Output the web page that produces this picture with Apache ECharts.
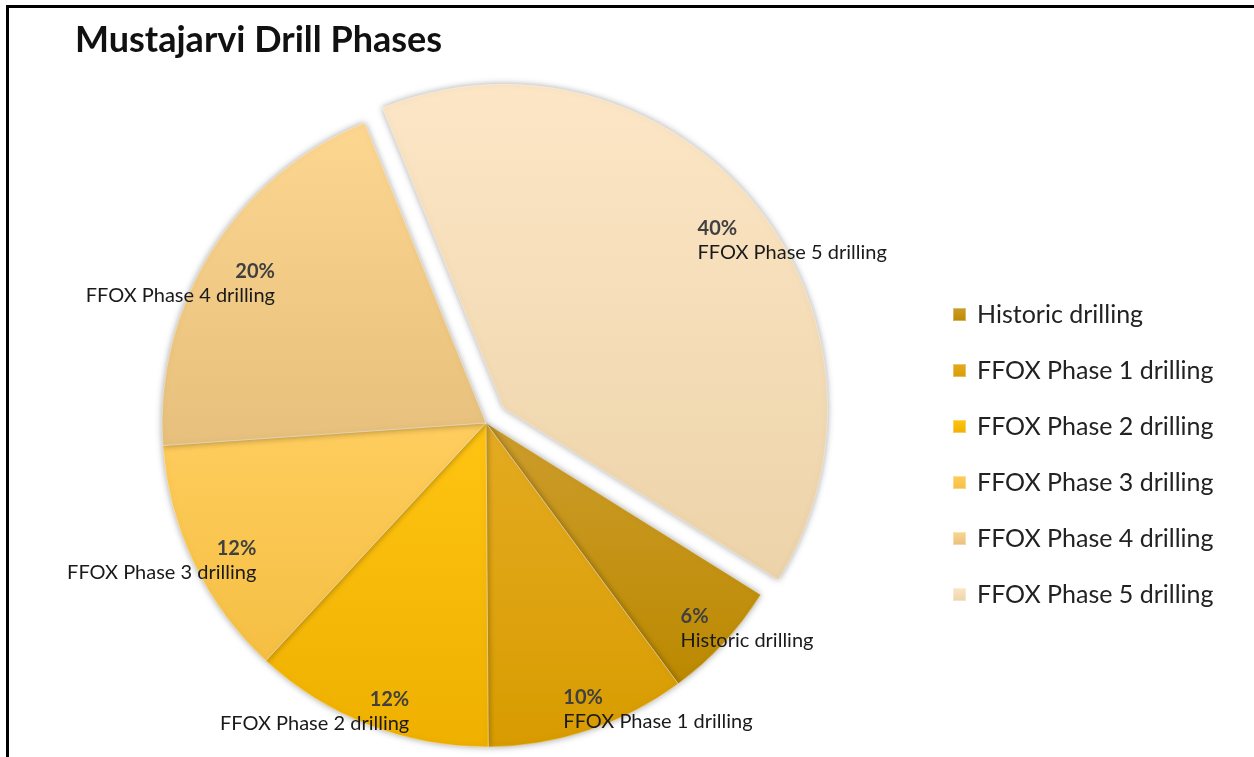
<!DOCTYPE html>
<html>
<head>
<meta charset="utf-8">
<script src="https://cdn.jsdelivr.net/npm/echarts@6/dist/echarts.min.js"></script>
<style>
  html, body { margin: 0; padding: 0; background: #fff; overflow: hidden; }
  #frame {
    position: absolute; left: 6px; top: 5px; width: 1248px; height: 752px;
    border-top: 3px solid #000; border-left: 3px solid #000;
  }
  #chart { position: absolute; left: 0; top: 0; width: 1254px; height: 757px; }
</style>
</head>
<body>
<div id="frame"></div>
<div id="chart"></div>
<script>
  const phases = [
    'Historic drilling',
    'FFOX Phase 1 drilling',
    'FFOX Phase 2 drilling',
    'FFOX Phase 3 drilling',
    'FFOX Phase 4 drilling',
    'FFOX Phase 5 drilling'
  ]
  const shares = [6, 10, 12, 12, 20, 40]
  const exploded = 'FFOX Phase 5 drilling'

  // gold shades, lighter at the top of each slice
  const topColors = ['#cd9d2c', '#e4ab22', '#ffc412', '#ffcd5e', '#fdd690', '#fde6c6']
  const bottomColors = ['#bb8900', '#d89c00', '#efb000', '#f4bf42', '#e6c07c', '#ecd3a9']

  // label pull-in (labelLine length / length2) so labels sit near the rim like in Excel
  const labelPull = [[-22, -32], [-22, -23], [-15, -40], [-5, -63], [-61, -17], [-63, -11]]

  const chart = echarts.init(document.getElementById('chart'))

  const pieData = phases.map((name, i) => ({
    name: name,
    value: shares[i],
    selected: name === exploded,
    itemStyle: {
      color: new echarts.graphic.LinearGradient(0, 0, 0, 1, [
        { offset: 0, color: topColors[i] },
        { offset: 1, color: bottomColors[i] }
      ])
    },
    labelLine: { show: false, length: labelPull[i][0], length2: labelPull[i][1] }
  }))

  const options = {
    backgroundColor: 'transparent',
    animation: false,
    title: {
      text: 'Mustajarvi Drill Phases',
      left: 70,
      top: 17,
      textStyle: {
        fontFamily: 'Lato',
        fontWeight: 'bold',
        fontSize: 36,
        color: '#111'
      }
    },
    legend: {
      orient: 'vertical',
      left: 947,
      top: 297,
      icon: 'rect',
      itemWidth: 13,
      itemHeight: 13,
      itemGap: 31,
      selectedMode: false,
      data: phases,
      textStyle: {
        fontFamily: 'Lato',
        fontSize: 25,
        lineHeight: 25,
        color: '#222',
        padding: [0, 0, 0, 6]
      }
    },
    series: [
      {
        type: 'pie',
        center: [486, 423],
        radius: 324,
        startAngle: -32,
        clockwise: true,
        selectedMode: 'single',
        selectedOffset: 23,
        avoidLabelOverlap: false,
        percentPrecision: 0,
        emphasis: { disabled: true },
        itemStyle: {
          borderColor: 'rgba(255,255,255,0.35)',
          borderWidth: 1,
          shadowBlur: 7,
          shadowColor: 'rgba(0,0,0,0.35)'
        },
        label: {
          show: true,
          position: 'outside',
          formatter: '{p|{d}%}\n{n|{b}}',
          distanceToLabelLine: 5,
          rich: {
            p: { fontFamily: 'Lato', fontWeight: 'bold', fontSize: 20, lineHeight: 24, color: '#404040' },
            n: { fontFamily: 'Lato', fontSize: 20, lineHeight: 24, color: '#1a1a1a' }
          }
        },
        data: pieData
      }
    ]
  }

  chart.setOption(options)
  window.addEventListener('resize', function () {
    chart && chart.resize()
  })
</script>
</body>
</html>
